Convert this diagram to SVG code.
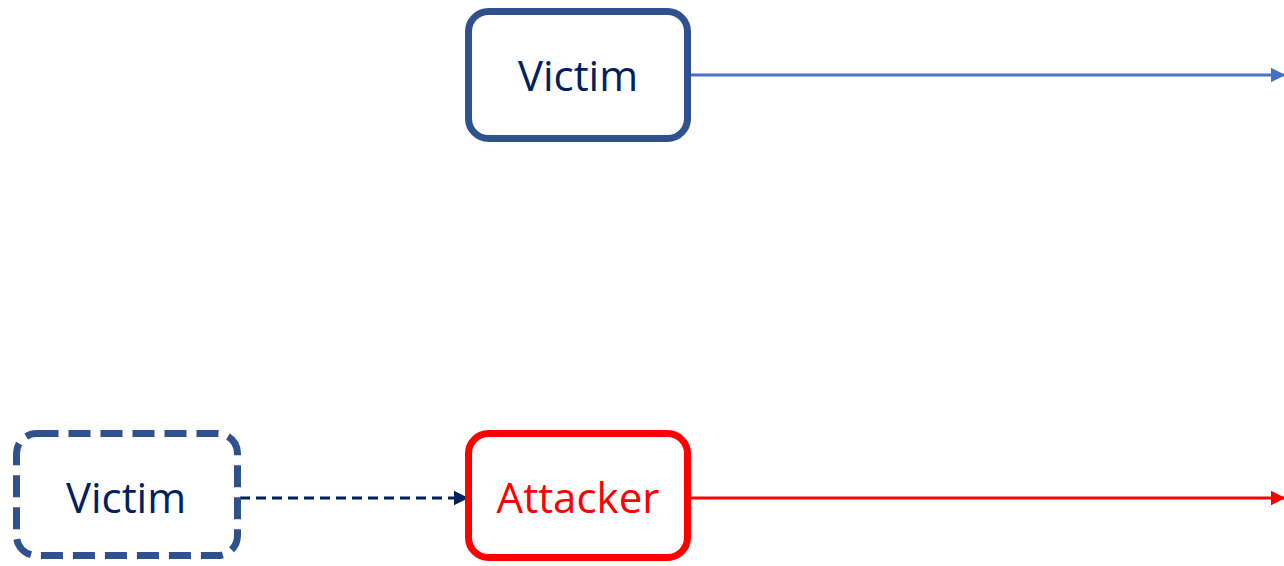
<svg xmlns="http://www.w3.org/2000/svg" width="1284" height="566" viewBox="0 0 1284 566">
<defs>
<style>
.box{fill:#fff;stroke-width:7}
.blue{stroke:#2F528F}
.red{stroke:#FF0000}
.lbl{font-family:"Open Sans","Liberation Sans",sans-serif;font-size:42px;text-anchor:middle}
</style>
<marker id="ahBlue" markerWidth="5" markerHeight="5" refX="4.5" refY="2.5" orient="auto" markerUnits="strokeWidth"><path d="M0,0 L5,2.5 L0,5 Z" fill="#4472C4"/></marker>
<marker id="ahRed" markerWidth="5" markerHeight="5" refX="4.5" refY="2.5" orient="auto" markerUnits="strokeWidth"><path d="M0,0 L5,2.5 L0,5 Z" fill="#FF0000"/></marker>
<marker id="ahNavy" markerWidth="5" markerHeight="5" refX="4.5" refY="2.5" orient="auto" markerUnits="strokeWidth"><path d="M0,0 L5,2.5 L0,5 Z" fill="#002060"/></marker>
</defs>
<g id="connectors">
<line x1="691" y1="75" x2="1284" y2="75" stroke="#4472C4" stroke-width="3" marker-end="url(#ahBlue)"/>
<line x1="691" y1="498" x2="1284" y2="498" stroke="#FF0000" stroke-width="3" marker-end="url(#ahRed)"/>
<line x1="240" y1="498" x2="467" y2="498" stroke="#002060" stroke-width="3" stroke-dasharray="10,6" marker-end="url(#ahNavy)"/>
</g>
<g id="victim-top">
<rect class="box blue" x="468.5" y="11.5" width="219" height="127" rx="20"/>
<text class="lbl" x="578" y="91" fill="#002060">Victim</text>
</g>
<g id="victim-dashed">
<rect class="box blue" x="16.5" y="433.5" width="221" height="122" rx="20" stroke-dasharray="22,10"/>
<text class="lbl" x="126" y="513" fill="#002060">Victim</text>
</g>
<g id="attacker">
<rect class="box red" x="468.5" y="433.5" width="219" height="124" rx="20"/>
<text class="lbl" x="578" y="513" fill="#FF0000">Attacker</text>
</g>
</svg>
